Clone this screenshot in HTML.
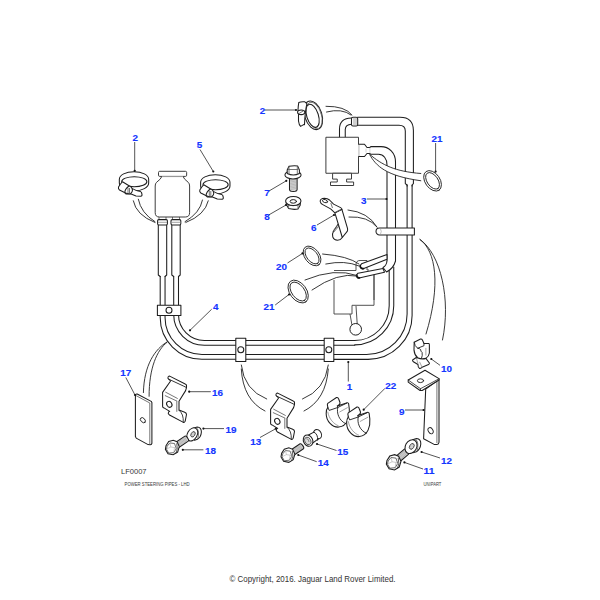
<!DOCTYPE html>
<html><head><meta charset="utf-8">
<style>
html,body{margin:0;padding:0;background:#fff;width:600px;height:600px;overflow:hidden}
svg{position:absolute;left:0;top:0;display:block}
.l{font-family:"Liberation Sans",sans-serif;font-weight:bold;font-size:9.7px;fill:#1436ff;stroke:#1436ff;stroke-width:0.15}
.s{fill:none;stroke:#1e1e1e;stroke-width:1.05;stroke-linejoin:round;stroke-linecap:round}
.w{fill:#fff;stroke:#1e1e1e;stroke-width:1.05;stroke-linejoin:round}
.g{fill:none;stroke:#666;stroke-width:0.9}
.hb{fill:none;stroke:#404040;stroke-width:0.9}
.ld{fill:none;stroke:#2a2a2a;stroke-width:0.8}
.m{fill:none;stroke:#222;stroke-width:0.9;stroke-linecap:round}
.t{font-family:"Liberation Sans",sans-serif;fill:#222}
</style></head><body>
<svg width="600" height="600" viewBox="0 0 600 600">


<!-- ===== LEFT PIPE PAIR (item 4) ===== -->
<g id="pipes">
  <path class="s" d="M173.7,315 V314.55 A30.7,30.7 0 0 0 204.4,345.25 H324"/>
  <path class="s" d="M178.5,315 V314.55 A25.9,25.9 0 0 0 204.4,340.45 H324"/>
  <path class="s" d="M165.05,315 V317.5 A36.95,36.95 0 0 0 202,354.45 H324"/>
  <path class="s" d="M160.2,315 V317.5 A41.8,41.8 0 0 0 202,359.3 H324"/>
  <path class="s" d="M160.2,276.5 V305 M165.05,276.5 V305 M173.7,276.5 V305 M178.5,276.5 V305"/>
  <path class="s" d="M158.3,224.7 V275 L160.2,276.5 M166.7,224.7 V275 L165.05,276.5"/>
  <path class="s" d="M171.8,224.7 V275 L173.7,276.5 M180.2,224.7 V275 L178.5,276.5"/>
  <path class="g" d="M159,217 V220 M166,217 V220 M172.5,217 V220 M179.5,217 V220"/>
  <rect class="w" x="157.6" y="219.6" width="9.8" height="5.4" rx="1.2"/>
  <rect class="w" x="171" y="219.6" width="9.8" height="5.4" rx="1.2"/>
  <path class="g" d="M158,222.3 H167 M171.4,222.3 H180.4" style="stroke:#999"/>
  <rect class="w" x="157.4" y="305.3" width="23.5" height="10.2"/>
  <circle class="s" cx="169" cy="310.3" r="3"/>
  <path class="s" d="M333.8,340.45 H354.7 M333.8,345.3 H354.7 M333.8,354.45 H366.6 M333.8,359.35 H368"/>
  <path class="s" d="M354.7,340.45 A34.65,34.65 0 0 0 389.2,305.8 V271.3"/>
  <path class="s" d="M354.7,344.85 A39.05,39.05 0 0 0 393.75,305.8 V267"/>
  <path class="s" d="M366.6,354.45 A40.5,40.5 0 0 0 407.1,313.95 V185"/>
  <path class="s" d="M368.2,359.35 A43.9,43.9 0 0 0 412.1,315.45 V185"/>
  <rect class="w" x="235.8" y="338.3" width="10" height="23.2"/>
  <circle class="s" cx="240.8" cy="349.7" r="3"/>
  <rect class="w" x="324.2" y="338.3" width="9.6" height="23.2"/>
  <circle class="s" cx="328.8" cy="349.7" r="3"/>
</g>
<!-- ===== JAR ===== -->
<g id="jar" style="--x:0">
  <path class="w" style="stroke:#333;stroke-width:0.95" d="M161.9,176.4 Q161,179 156.5,182.4 Q155.2,183.5 155.2,186 V212.7 Q155.2,217 159.5,217 H185.3 Q189.6,217 189.6,212.7 V186 Q189.6,183.5 188.3,182.4 Q183.8,179 183,176.4 Z"/>
  <rect class="w" style="stroke:#333;stroke-width:0.95" x="158.5" y="171.3" width="28.15" height="5.1" rx="1.2"/>
  <path class="g" d="M162,176.6 H183" style="stroke:#aaa"/>
</g>
<!-- ===== RIGHT UPPER ASSEMBLY ===== -->
<g id="upper">
  <path class="s" d="M412.1,186 V185 L413.4,183.6 V130.5 Q413.4,117.25 400,117.25 H357.5 M357.5,125.2 H399 Q405.3,125.2 405.3,131 V183.6 L407.1,185 V186"/>
  <path class="s" d="M339.5,137.25 V129 Q339.5,118.3 351.5,118 M345.25,137.25 V129.5 Q345.5,124.5 351.5,124.25"/>
  <rect class="w" x="351.5" y="117.2" width="6.2" height="8.8" rx="1.5"/>
  <path class="g" d="M354,117.8 V125.5 M356,117.8 V125.5" style="stroke:#999"/>
  <rect class="w" x="325.9" y="137.25" width="32.6" height="36" style="stroke:#333;stroke-width:0.95"/>
  <path class="w" style="stroke:#333;stroke-width:0.95" d="M332.6,173.25 V179.1 H337.25 V182 H330.5 V185.5 H353.6 V182 H346.6 V179.1 H351.5 V173.25 Z"/>
  
  <path d="M358.2,144.25 H364.5 L367,147.5 H369.8 L370.8,146.6 H381 C389,146.6 395.5,153 395.5,162 V261 L387,261 V165 C387,158.5 383.5,154.3 378.5,154.3 H372 H370.8 L369.8,153.5 H367 L364.5,156.5 H358.2 Z" style="fill:#fff;stroke:none"/>
  <path class="s" d="M358.75,144.25 H364.5 L367,147.5 H369.8 L370.8,146.6 H381 C389,146.6 395.5,153 395.5,162 V261 M387,261 V165 C387,158.5 383.5,154.3 378.5,154.3 H372 H370.8 L369.8,153.5 H367 L364.5,156.5 H358.75"/>
  <path d="M359.3,145 V156 M366,148.5 V152.5 M369.9,147.7 V153.3" style="fill:none;stroke:#bbb;stroke-width:0.6"/>
  <!-- clamp bar -->
  <path class="w" d="M379.5,228 H414.4 V235 H379.5 A3.5,3.5 0 0 1 379.5,228 Z"/>
  <path d="M380.5,229 Q382,231.5 380.5,234" style="fill:none;stroke:#999;stroke-width:0.6"/>
</g>
<!-- angled tubes and hidden box -->
<g id="tubes">
  <path class="hb" d="M334,280 V314 H352 V305.3 H374 V274.7"/>
  <path class="hb" d="M334,270.5 H356 V264.7 Q356,260.5 360,260.5 H367 V270 H369"/>
  <path class="hb" d="M374,273 V300"/>
  <path class="hb" d="M350,314 L352,325.3 M356,306 L357.3,325.3"/>
  <circle class="w" cx="355.7" cy="329.3" r="5.8" style="stroke-width:1"/>
  <!-- tube 2 (lower) -->
  <path class="w" d="M383,268.5 L358,273.2 Q355.5,275.5 358,278.2 L384.5,272.2 Z"/>
  <path d="M356.6,275 Q356.5,278 359.5,277.9" style="fill:none;stroke:#111;stroke-width:1.7;stroke-linecap:round"/>
  <!-- tube 1 (upper) -->
  <path class="w" d="M387,254.5 L361.5,263.8 Q358.5,267 362.5,269 L387,259.3 Z"/>
  <path d="M360.2,265.5 Q360,268.8 363.5,268.6" style="fill:none;stroke:#111;stroke-width:1.7;stroke-linecap:round"/>
  <!-- hose B lower end -->
  <path d="M387,261 Q386.5,265.5 383,267.5 L386.5,272 Q393.5,268.5 395.5,261 Z" style="fill:#fff;stroke:none"/>
  <path class="s" d="M387,261 Q386.5,265.5 383,267.5 L386.5,272 Q393.5,268.5 395.5,261"/>
</g>

<!-- ===== CLAMPS 2 & 5 ===== -->
<g transform="translate(134,179.33)">
    <path class="w" d="M-14.67,0 A14.67,7.67 0 0 1 14.67,0 V3.67 A14.67,8 0 0 1 -14.67,3.67 Z"/>
    <ellipse class="s" cx="0.27" cy="2.34" rx="12.6" ry="5"/>
    <path class="w" d="M-13.5,4.67 L-15.5,7.67 Q-16,9.5 -14.5,10.67 L-10,12.92 Q-8.5,13.8 -8,14.67 L-3.5,14.42 L2,16.67 L7,16.92 Q8.3,16.5 8,15.17 L7.5,13.17 L6.5,12.17 Q0,11.5 -5,6.42 L-11.5,2.42 Z"/>
    <path class="w" d="M-9.25,13.17 Q-9,9.5 -5,6.67 Q-2.5,6.8 -1.5,10.67 Q-1.5,13 -3.5,14.42 Q-7,14.8 -9.25,13.17 Z"/>
    <path class="g" d="M-6,8.67 V13.8 M-4.5,8.67 V13.8"/>
  </g>
<g transform="translate(215.3,182.33)">
    <path class="w" d="M-14.67,0 A14.67,7.67 0 0 1 14.67,0 V3.67 A14.67,8 0 0 1 -14.67,3.67 Z"/>
    <ellipse class="s" cx="0.27" cy="2.34" rx="12.6" ry="5"/>
    <path class="w" d="M-13.5,4.67 L-15.5,7.67 Q-16,9.5 -14.5,10.67 L-10,12.92 Q-8.5,13.8 -8,14.67 L-3.5,14.42 L2,16.67 L7,16.92 Q8.3,16.5 8,15.17 L7.5,13.17 L6.5,12.17 Q0,11.5 -5,6.42 L-11.5,2.42 Z"/>
    <path class="w" d="M-9.25,13.17 Q-9,9.5 -5,6.67 Q-2.5,6.8 -1.5,10.67 Q-1.5,13 -3.5,14.42 Q-7,14.8 -9.25,13.17 Z"/>
    <path class="g" d="M-6,8.67 V13.8 M-4.5,8.67 V13.8"/>
  </g>
<!-- side-view clamp 2 (top) -->
<g id="sideclamp">
  <ellipse class="w" cx="313.3" cy="115.3" rx="8.6" ry="14.8" transform="rotate(-18 313.3 115.3)"/>
  <ellipse class="s" cx="314.2" cy="115.4" rx="7.2" ry="13.7" transform="rotate(-18 314.2 115.4)" style="stroke:#555;stroke-width:0.7"/>
  <ellipse class="w" cx="312.6" cy="115.8" rx="5.8" ry="12" transform="rotate(-18 312.6 115.8)"/>
  <path class="w" d="M304.5,124.6 L303.6,124.6 L300.6,126.4 Q299,125 298.5,121 L298.5,114.4 Q297.4,111 298.8,102.4 Q301,101.5 304.8,101.8 L306.9,103.6 Q305,112 304.5,124.6 Z"/>
  <ellipse class="w" cx="301.2" cy="112.3" rx="3.6" ry="2.3"/>
  <path class="g" d="M299,113.5 L303.5,110.8"/>
</g>

<!-- ===== RINGS ===== -->
<g id="rings" style="stroke:#2a2a2a">
  <ellipse class="s" cx="432.6" cy="180.9" rx="11.4" ry="7.4" transform="rotate(55 432.6 180.9)" style="stroke-width:0.85"/>
  <ellipse class="s" cx="432.6" cy="180.9" rx="9.4" ry="5.4" transform="rotate(55 432.6 180.9)" style="stroke-width:0.85"/>
  <ellipse class="s" cx="312.1" cy="256" rx="11.2" ry="7.2" transform="rotate(52 312.1 256)" style="stroke-width:0.85"/>
  <ellipse class="s" cx="312.1" cy="256" rx="9.3" ry="5.3" transform="rotate(52 312.1 256)" style="stroke-width:0.85"/>
  <ellipse class="s" cx="298.2" cy="291.6" rx="12.9" ry="8.3" transform="rotate(53 298.2 291.6)" style="stroke-width:0.85"/>
  <ellipse class="s" cx="298.2" cy="291.6" rx="10.9" ry="6.3" transform="rotate(53 298.2 291.6)" style="stroke-width:0.85"/>
</g>

<!-- ===== BOLT 7 / NUT 8 ===== -->
<g id="bolt7">
  <path class="w" d="M289.5,178 V189.5 Q289.5,191.5 293.3,191.5 Q297.1,191.5 297.1,189.5 V178 Z" style="fill:#d8d8d8"/>
  <path d="M290.3,180.5 L296.3,179.5 M290.3,182 L296.3,181 M290.3,183.5 L296.3,182.5 M290.3,185 L296.3,184 M290.3,186.5 L296.3,185.5 M290.3,188 L296.3,187 M290.3,189.5 L296.3,188.5" style="fill:none;stroke:#999;stroke-width:0.5"/>
  <path class="w" d="M284.9,174.9 A8.1,4.05 0 0 0 301.1,174.9 A8.1,4.05 0 0 0 284.9,174.9 Z"/>
  <path class="w" d="M287.2,173.5 V169.9 L289,166.3 Q293,165.4 297.6,165.9 L299.4,169.9 V173.5 Q293.3,176.5 287.2,173.5 Z"/>
  <path class="g" d="M289,167 V174.5 M297.3,167 V174.5 M288,169.5 H298.6"/>
</g>
<g id="nut8">
  <path class="w" d="M286.3,202 V204.5 L288.6,208.6 Q293,209.8 298,209.1 L300.3,205 V202 Z"/>
  <path class="g" d="M288.6,205 V208.6 M298,205 V209 M286.3,204.5 Q293,207 300.3,204.5"/>
  <ellipse class="w" cx="293.3" cy="201" rx="7.7" ry="4.5"/>
  <ellipse class="s" cx="293.3" cy="201.4" rx="3.2" ry="1.8" style="stroke-width:1"/>
</g>
<!-- bracket 6 -->
<g id="br6">
  <path class="w" d="M342.3,237.5 Q340.5,240.3 337.5,240.3 Q334,240.1 332.8,237.1 Q331.8,234 333.6,231 L338.2,224"/>
  <path class="g" d="M338,224.9 L332.8,231.4 M338.8,226.2 L333.6,232.3"/>
  <path class="w" d="M334.9,212.8 L341.9,209.3 L347.5,228.4 Q347.9,230.2 347.2,231.4 L342.3,237.5 Z"/>
  <path class="w" d="M320.2,201.5 Q320,198.5 324.5,198.2 Q327.5,198.3 329.5,200 L333.6,204.1 L340.6,207.6 Q341.8,208.3 341.9,209.3 L334.9,212.8 L330.6,208.9 L322.8,204.6 Q320.5,203.5 320.2,201.5 Z"/>
  <ellipse class="s" cx="325" cy="201.1" rx="2.6" ry="1.5" transform="rotate(20 325 201.1)" style="stroke-width:0.9"/>
  <path class="g" d="M330.8,203 L332.5,208 M335.5,212.3 L341,209.5"/>
</g>

<!-- ===== LOWER PARTS ===== -->
<!-- plate 17 -->
<g id="plate17">
  <path class="w" d="M135.7,394.7 Q136,393.8 137.2,394 L151.2,401.4 L151.9,402.5 V443.3 Q151.5,444.8 150.1,444.8 L148.1,444.6 L136.2,438.1 L135.4,436.6 V396.3 Z"/>
  <path class="g" d="M136.2,395.7 L149.8,403 V444.3"/>
  <ellipse class="s" cx="142.9" cy="420.2" rx="3" ry="2" transform="rotate(45 142.9 420.2)" style="stroke-width:0.9"/>
</g>
<g transform="translate(158,370)">
    <path class="w" d="M9.9,7.9 Q10,6 11.7,6.1 L27.2,14 Q28.5,14.5 28.5,15.4 L28.5,17.6 L27.6,20.6 L21,31.2 L21,40 L26.7,42.3 Q28.5,43 28.5,44.5 L27.2,51.1 Q26.5,52.8 25.4,52.4 L11.5,45 Q9.6,43.6 10.5,42 L11.7,41.4 L6,37.9 Q4.6,37.5 4.6,36.5 L4.6,22.4 L12.6,11 L10.8,9.2 Q9.8,8.6 9.9,7.9 Z"/>
    <path class="s" d="M10.8,9.2 L25.8,16.2 L28.5,17.6" style="stroke-width:0.9"/>
    <path class="g" d="M7.3,22 L19.7,28.6 M6.9,25.5 L19.2,31.2 M18.8,31.2 V41.8"/>
    <path class="s" d="M21,40.2 Q25.8,43.8 25.3,52.2" style="stroke-width:0.85"/>
    
    <ellipse class="s" cx="11.3" cy="34.3" rx="2.5" ry="3.1" transform="rotate(-30 11.3 34.3)"/>
  </g>
<g transform="translate(266,387)">
    <path class="w" d="M9.9,7.9 Q10,6 11.7,6.1 L27.2,14 Q28.5,14.5 28.5,15.4 L28.5,17.6 L27.6,20.6 L21,31.2 L21,40 L26.7,42.3 Q28.5,43 28.5,44.5 L27.2,51.1 Q26.5,52.8 25.4,52.4 L11.5,45 Q9.6,43.6 10.5,42 L11.7,41.4 L6,37.9 Q4.6,37.5 4.6,36.5 L4.6,22.4 L12.6,11 L10.8,9.2 Q9.8,8.6 9.9,7.9 Z"/>
    <path class="s" d="M10.8,9.2 L25.8,16.2 L28.5,17.6" style="stroke-width:0.9"/>
    <path class="g" d="M7.3,22 L19.7,28.6 M6.9,25.5 L19.2,31.2 M18.8,31.2 V41.8"/>
    <path class="s" d="M21,40.2 Q25.8,43.8 25.3,52.2" style="stroke-width:0.85"/>
    
    <ellipse class="s" cx="11.3" cy="34.3" rx="2.5" ry="3.1" transform="rotate(-30 11.3 34.3)"/>
  </g>
<!-- washer 19 -->
<g id="w19">
  <path class="w" d="M193.5,428.3 L197.2,427 Q201.3,427.2 201.4,432 Q201,437.2 197.4,439.2 L194.5,440.3 Z"/>
  <path d="M196.3,427.6 Q199.8,430.5 197.8,439" style="fill:none;stroke:#444;stroke-width:0.7"/>
  <ellipse class="w" cx="192.3" cy="434.4" rx="4.9" ry="7" transform="rotate(30 192.3 434.4)"/>
  <ellipse cx="193" cy="434.3" rx="1.9" ry="2.9" transform="rotate(30 193 434.3)" style="fill:#d0d0d0;stroke:#333;stroke-width:0.8"/>
</g>
<path class="w" d="M175.19,449.98 L188.29,441.08 Q189.28,440.41 187.59,437.93 Q185.91,435.44 184.91,436.12 L171.81,445.02 Z" style="fill:#d4d4d4"/>
<path d="M177.03,448.00 L174.83,443.69 M178.12,447.26 L175.92,442.95 M179.22,446.52 L177.01,442.21 M180.31,445.78 L178.11,441.47 M181.40,445.04 L179.20,440.73 M182.49,444.29 L180.29,439.99 M183.58,443.55 L181.38,439.24 M184.67,442.81 L182.47,438.50 M185.77,442.07 L183.56,437.76 M186.86,441.33 L184.66,437.02" style="fill:none;stroke:#999;stroke-width:0.5"/>
<g transform="translate(172.2,447.4) scale(0.97)">
    <path d="M-6.4,-1.7 L-3.6,-6 L1.1,-7.4 L5,-5.8 L7.3,-0.8 L5.6,4.8 L1,7.6 L-4.3,6.5 L-7,2 Z" style="fill:#fff;stroke:#1e1e1e;stroke-width:1.1;stroke-linejoin:miter"/>
    <path d="M-5.2,-1.2 L-2.4,-4.6 L2.4,-4 L4.2,1.2 L1.6,5.4 L-3.6,5.9 L-5.9,1.8 Z" style="fill:none;stroke:#444;stroke-width:0.8"/>
    <path d="M-2.4,-4.6 L-1.4,-0.4 L2.4,0.2 L4.2,1.2 M-1.4,-0.4 L-5.9,1.8 M2.4,0.2 L1.6,5.4" style="fill:none;stroke:#999;stroke-width:0.5"/>
    <path d="M4.6,-4.2 Q6.4,1.5 3.8,6.2" style="fill:none;stroke:#333;stroke-width:0.8"/>
  </g>
<path class="w" d="M291.16,457.00 L303.46,448.80 Q304.46,448.13 302.80,445.63 Q301.13,443.14 300.14,443.80 L287.84,452.00 Z" style="fill:#d4d4d4"/>
<path d="M293.07,455.01 L290.90,450.68 M294.19,454.26 L292.02,449.93 M295.30,453.52 L293.14,449.19 M296.42,452.77 L294.26,448.44 M297.54,452.02 L295.38,447.70 M298.66,451.28 L296.50,446.95 M299.78,450.53 L297.61,446.21 M300.89,449.79 L298.73,445.46 M302.01,449.04 L299.85,444.72" style="fill:none;stroke:#999;stroke-width:0.5"/>
<g transform="translate(287.8,455) scale(0.97)">
    <path d="M-6.4,-1.7 L-3.6,-6 L1.1,-7.4 L5,-5.8 L7.3,-0.8 L5.6,4.8 L1,7.6 L-4.3,6.5 L-7,2 Z" style="fill:#fff;stroke:#1e1e1e;stroke-width:1.1;stroke-linejoin:miter"/>
    <path d="M-5.2,-1.2 L-2.4,-4.6 L2.4,-4 L4.2,1.2 L1.6,5.4 L-3.6,5.9 L-5.9,1.8 Z" style="fill:none;stroke:#444;stroke-width:0.8"/>
    <path d="M-2.4,-4.6 L-1.4,-0.4 L2.4,0.2 L4.2,1.2 M-1.4,-0.4 L-5.9,1.8 M2.4,0.2 L1.6,5.4" style="fill:none;stroke:#999;stroke-width:0.5"/>
    <path d="M4.6,-4.2 Q6.4,1.5 3.8,6.2" style="fill:none;stroke:#333;stroke-width:0.8"/>
  </g>
<path class="w" d="M397.15,464.00 L408.65,454.10 Q409.56,453.32 407.41,450.82 Q405.26,448.32 404.35,449.10 L392.85,459.00 Z" style="fill:#d4d4d4"/>
<path d="M398.81,461.70 L395.82,457.31 M399.86,460.80 L396.87,456.41 M400.90,459.90 L397.91,455.51 M401.95,459.00 L398.96,454.61 M403.00,458.10 L400.01,453.71 M404.04,457.20 L401.05,452.81 M405.09,456.30 L402.10,451.91 M406.13,455.40 L403.14,451.01 M407.18,454.50 L404.19,450.11" style="fill:none;stroke:#999;stroke-width:0.5"/>
<g transform="translate(393.5,462.2) scale(1.02)">
    <path d="M-6.4,-1.7 L-3.6,-6 L1.1,-7.4 L5,-5.8 L7.3,-0.8 L5.6,4.8 L1,7.6 L-4.3,6.5 L-7,2 Z" style="fill:#fff;stroke:#1e1e1e;stroke-width:1.1;stroke-linejoin:miter"/>
    <path d="M-5.2,-1.2 L-2.4,-4.6 L2.4,-4 L4.2,1.2 L1.6,5.4 L-3.6,5.9 L-5.9,1.8 Z" style="fill:none;stroke:#444;stroke-width:0.8"/>
    <path d="M-2.4,-4.6 L-1.4,-0.4 L2.4,0.2 L4.2,1.2 M-1.4,-0.4 L-5.9,1.8 M2.4,0.2 L1.6,5.4" style="fill:none;stroke:#999;stroke-width:0.5"/>
    <path d="M4.6,-4.2 Q6.4,1.5 3.8,6.2" style="fill:none;stroke:#333;stroke-width:0.8"/>
  </g>
<!-- spacer 15 -->
<g id="sp15">
  <ellipse class="w" cx="317.6" cy="434.2" rx="3.7" ry="4.9" transform="rotate(-25 317.6 434.2)"/>
  <path d="M308,435.3 L313.9,432.1 L318.6,438.6 L313,442.9 Z" style="fill:#fff"/>
  <path class="s" d="M308,435.3 L313.9,432.1 M313,442.9 L318.6,438.6"/>
  <path class="s" d="M313.9,432.1 Q318.2,434 317.6,440.2" style="stroke-width:0.95"/>
  <ellipse class="w" cx="308.1" cy="440.6" rx="4.6" ry="5.8" transform="rotate(-25 308.1 440.6)"/>
  <ellipse cx="307.8" cy="440.9" rx="2.9" ry="3.9" transform="rotate(-25 307.8 440.9)" style="fill:#ddd;stroke:#333;stroke-width:0.7"/>
  <path d="M306.2,438.6 Q309,438.8 309,442" style="fill:none;stroke:#555;stroke-width:0.6"/>
</g>
<!-- clips 22 -->
<g id="clip22">
  <g transform="translate(324,395) scale(0.08333)">
    <path vector-effect="non-scaling-stroke" class="w" d="M45,100 L150,30 Q168,25 175,45 L192,90 Q195,108 178,118 L162,132 L270,95 Q290,88 296,108 L304,172 C312,260 282,375 178,385 C100,392 26,315 26,222 C26,185 36,160 46,148 L40,115 Z"/>
    <path vector-effect="non-scaling-stroke" class="s" d="M46,148 L62,185 L165,150 L160,132 M165,150 C148,215 180,310 262,345 M165,150 L272,98" style="stroke-width:0.9"/>
    <path vector-effect="non-scaling-stroke" class="g" d="M185,205 L285,150 M45,200 C60,290 120,350 175,370" style="stroke-width:0.6"/>
    <g transform="translate(246,114)"><path vector-effect="non-scaling-stroke" class="w" d="M45,100 L150,30 Q168,25 175,45 L192,90 Q195,108 178,118 L162,132 L270,95 Q290,88 296,108 L304,172 C312,260 282,375 178,385 C100,392 26,315 26,222 C26,185 36,160 46,148 L40,115 Z"/>
    <path vector-effect="non-scaling-stroke" class="s" d="M46,148 L62,185 L165,150 L160,132 M165,150 C148,215 180,310 262,345 M165,150 L272,98" style="stroke-width:0.9"/>
    <path vector-effect="non-scaling-stroke" class="g" d="M185,205 L285,150 M45,200 C60,290 120,350 175,370" style="stroke-width:0.6"/></g>
  </g>
</g>
<!-- clip 10 -->
<g id="clip10">
  <g transform="translate(405,334) scale(0.0633)">
    <path vector-effect="non-scaling-stroke" class="w" d="M120,410 L178,372 L330,385 L385,458 Q390,475 372,482 L270,525 Q250,550 225,540 Q205,525 205,482 L132,438 Q115,428 120,410 Z"/>
    <path vector-effect="non-scaling-stroke" class="g" d="M178,372 L205,470 M230,440 L270,525" style="stroke-width:0.6"/>
    <path vector-effect="non-scaling-stroke" class="w" d="M145,130 L245,80 Q265,75 275,95 L300,150 L375,150 Q388,155 385,175 L385,300 Q380,350 330,385 Q260,405 200,375 Q150,335 142,255 Z"/>
    <path vector-effect="non-scaling-stroke" class="s" d="M145,130 Q150,190 200,225 L300,185 L300,150 M200,225 Q240,230 250,250 Q240,270 270,290 Q280,340 262,380" style="stroke-width:0.9"/>
    <path vector-effect="non-scaling-stroke" class="g" d="M330,220 V340" style="stroke-width:0.6"/>
  </g>
</g>
<!-- bracket 9 -->
<g id="br9">
  <path class="w" d="M425.7,389.1 L439,379.3 V442.3 Q438.8,444.4 437,444.4 L434.1,444.4 L423.6,438.8 Z"/>
  <path class="g" d="M436.9,381 V443"/>
  <path class="w" d="M408.2,380 L425,370.2 L439,378.6 V380 L422.2,390.5 H420.1 L408.2,382.1 Z"/>
  <path class="s" d="M408.2,380 L420.5,388.7 L439,378.8 M420.5,388.7 V390.5" style="stroke-width:0.8"/>
  <ellipse class="s" cx="420.5" cy="380.7" rx="3.1" ry="1.9" style="stroke-width:0.9"/>
  <ellipse class="s" cx="430.6" cy="430.7" rx="2.3" ry="3.3" transform="rotate(-30 430.6 430.7)" style="stroke-width:0.9"/>
</g>
<!-- washer 12 -->
<g id="w12">
  <path class="w" d="M412.5,439.8 L416.6,438.6 Q421,439 420.8,444 Q420.3,449.5 416.4,451.8 L413,452.8 Z"/>
  <path d="M415.6,439.2 Q419.3,442.3 417,451.5" style="fill:none;stroke:#444;stroke-width:0.7"/>
  <ellipse class="w" cx="411" cy="446.6" rx="5.6" ry="7.3" transform="rotate(30 411 446.6)"/>
  <ellipse cx="411.8" cy="446.4" rx="2.1" ry="3.1" transform="rotate(30 411.8 446.4)" style="fill:#d0d0d0;stroke:#333;stroke-width:0.8"/>
</g>

<!-- ===== MOTION LINES ===== -->
<g class="m">
  <path d="M133.3,200.8 Q136,215 155,222.5"/>
  <path d="M138.3,199.2 Q141,213 155,221.7"/>
  <path d="M208.3,200.8 Q205,215 185.8,222.5"/>
  <path d="M202.5,200 Q200,213 185,221.7"/>
  <path d="M326,106.3 Q345,106 352,115"/>
  <path d="M326.5,112 Q342,108 351,115"/>
  <path d="M369.8,154.4 C382,165 395,171.5 420.8,173.5 L420.8,180.75 C386,176 376,166 369.8,154.8 Z" style="fill:#fff;stroke:none"/>
  <path d="M369.8,154.4 C382,165 395,171.5 420.8,173.5"/>
  <path d="M369.8,154.8 C376,166 386,176 420.8,180.75"/>
  <path d="M348,210 Q368,212 377,227"/>
  <path d="M349,217 Q368,216 377,227"/>
  <path d="M322.6,254 Q348,256 359,264"/>
  <path d="M325.8,264 Q345,260 359,266"/>
  <path d="M305,280 Q335,267.5 357,275.5"/>
  <path d="M312,290 Q338,272 357,276"/>
  <path d="M420,239.5 C436,251 441,285 426,334"/>
  <path d="M420,239.5 C441,254 451,300 442.5,340"/>
  <path d="M167,342 C155,349 144,365 143.4,392.6"/>
  <path d="M167,342.3 C157,350 149,368 149.1,396.3"/>
  <path d="M241.3,365 Q244,390 266.7,399"/>
  <path d="M241.3,369 Q243,400 265,411"/>
  <path d="M328.3,365 Q325,390 302.5,399"/>
  <path d="M328.3,369 Q326,400 304,411"/>
</g>

<!-- ===== LEADER LINES ===== -->
<g class="ld">
  <path d="M134.7,142 V170.8"/>
  <path d="M200,149.5 L213.3,171.5"/>
  <path d="M265,110 H296"/>
  <path d="M269,191 L286.3,180.8"/>
  <path d="M269,214.8 L286,205"/>
  <path d="M287.5,263 L302.5,253.4"/>
  <path d="M275.2,305 L289,294.5"/>
  <path d="M317,225 L334,215"/>
  <path d="M367,199 H386.5"/>
  <path d="M435.6,143 V171.6"/>
  <path d="M211.7,309.2 L190,330.3"/>
  <path d="M210.8,391.7 H189.2"/>
  <path d="M125.8,377.5 L135,395"/>
  <path d="M224,428.6 H203.4"/>
  <path d="M203.4,449.8 H182.8"/>
  <path d="M260,437.5 L275.8,428.7"/>
  <path d="M316.7,461.7 L298.3,455"/>
  <path d="M336.5,450.5 L317,444"/>
  <path d="M348.3,362 V381.5"/>
  <path d="M385,388.3 L363.7,409.7"/>
  <path d="M405,410 H423.6"/>
  <path d="M440,365.3 L431.3,359"/>
  <path d="M440,458 L421.6,452"/>
  <path d="M423,469 L404.4,462.4"/>
</g>
<g fill="#111">
  <circle cx="134.7" cy="170.8" r="1.1"/><circle cx="213.3" cy="171.5" r="1.1"/>
  <circle cx="296" cy="110" r="1.1"/><circle cx="286.3" cy="180.8" r="1.1"/>
  <circle cx="286" cy="205" r="1.1"/><circle cx="302.5" cy="253.4" r="1.1"/>
  <circle cx="289" cy="294.5" r="1.1"/><circle cx="334" cy="215" r="1.1"/>
  <circle cx="386.5" cy="199" r="1.1"/><circle cx="435.6" cy="171.6" r="1.1"/>
  <circle cx="190" cy="330.3" r="1.1"/><circle cx="189.2" cy="391.7" r="1.1"/>
  <circle cx="135" cy="395" r="1.1"/><circle cx="203.4" cy="428.6" r="1.1"/>
  <circle cx="182.8" cy="449.8" r="1.1"/><circle cx="275.8" cy="428.7" r="1.1"/>
  <circle cx="298.3" cy="455" r="1.1"/><circle cx="317" cy="444" r="1.1"/>
  <circle cx="348.3" cy="362" r="1.1"/><circle cx="363.7" cy="409.7" r="1.1"/>
  <circle cx="423.6" cy="410" r="1.1"/><circle cx="431.3" cy="359" r="1.1"/>
  <circle cx="421.6" cy="452" r="1.1"/><circle cx="404.4" cy="462.4" r="1.1"/>
</g>

<!-- ===== LABELS ===== -->
<g class="l">
  <text x="132.5" y="140.90" textLength="5.5" lengthAdjust="spacingAndGlyphs">2</text>
  <text x="196.7" y="147.90" textLength="5.5" lengthAdjust="spacingAndGlyphs">5</text>
  <text x="259.75" y="114.10" textLength="5.5" lengthAdjust="spacingAndGlyphs">2</text>
  <text x="264.3" y="195.80" textLength="5.5" lengthAdjust="spacingAndGlyphs">7</text>
  <text x="264.3" y="220.30" textLength="5.5" lengthAdjust="spacingAndGlyphs">8</text>
  <text x="275.9" y="269.60" textLength="11.0" lengthAdjust="spacingAndGlyphs">20</text>
  <text x="263.5" y="309.60" textLength="11.0" lengthAdjust="spacingAndGlyphs">21</text>
  <text x="311" y="230.60" textLength="5.5" lengthAdjust="spacingAndGlyphs">6</text>
  <text x="361" y="203.60" textLength="5.5" lengthAdjust="spacingAndGlyphs">3</text>
  <text x="431.6" y="141.60" textLength="11.0" lengthAdjust="spacingAndGlyphs">21</text>
  <text x="213" y="309.85" textLength="5.5" lengthAdjust="spacingAndGlyphs">4</text>
  <text x="212" y="395.80" textLength="11.0" lengthAdjust="spacingAndGlyphs">16</text>
  <text x="120.3" y="375.90" textLength="11.0" lengthAdjust="spacingAndGlyphs">17</text>
  <text x="225.5" y="432.60" textLength="11.0" lengthAdjust="spacingAndGlyphs">19</text>
  <text x="205" y="454.20" textLength="11.0" lengthAdjust="spacingAndGlyphs">18</text>
  <text x="250.3" y="444.60" textLength="11.0" lengthAdjust="spacingAndGlyphs">13</text>
  <text x="317.8" y="465.80" textLength="11.0" lengthAdjust="spacingAndGlyphs">14</text>
  <text x="337.2" y="454.80" textLength="11.0" lengthAdjust="spacingAndGlyphs">15</text>
  <text x="346.7" y="389.60" textLength="5.5" lengthAdjust="spacingAndGlyphs">1</text>
  <text x="385.3" y="388.80" textLength="11.0" lengthAdjust="spacingAndGlyphs">22</text>
  <text x="399" y="414.60" textLength="5.5" lengthAdjust="spacingAndGlyphs">9</text>
  <text x="441" y="372.30" textLength="11.0" lengthAdjust="spacingAndGlyphs">10</text>
  <text x="441" y="464.00" textLength="11.0" lengthAdjust="spacingAndGlyphs">12</text>
  <text x="423.6" y="474.00" textLength="11.0" lengthAdjust="spacingAndGlyphs">11</text>
</g>
<text class="t" x="121" y="474.2" style="font-size:7.6px;fill:#333" textLength="25.5" lengthAdjust="spacingAndGlyphs">LF0007</text>
<text class="t" x="124.6" y="485.6" style="font-size:4.6px;fill:#3a3a3a" textLength="65" lengthAdjust="spacingAndGlyphs">POWER STEERING PIPES - LHD</text>
<text class="t" x="423.6" y="485.6" style="font-size:4.6px;fill:#3a3a3a" textLength="17.8" lengthAdjust="spacingAndGlyphs">UNIPART</text>
<text class="t" x="229.5" y="581.6" style="font-size:8.3px;fill:#333" textLength="166" lengthAdjust="spacingAndGlyphs">© Copyright, 2016. Jaguar Land Rover Limited.</text>
</svg>
</body></html>
